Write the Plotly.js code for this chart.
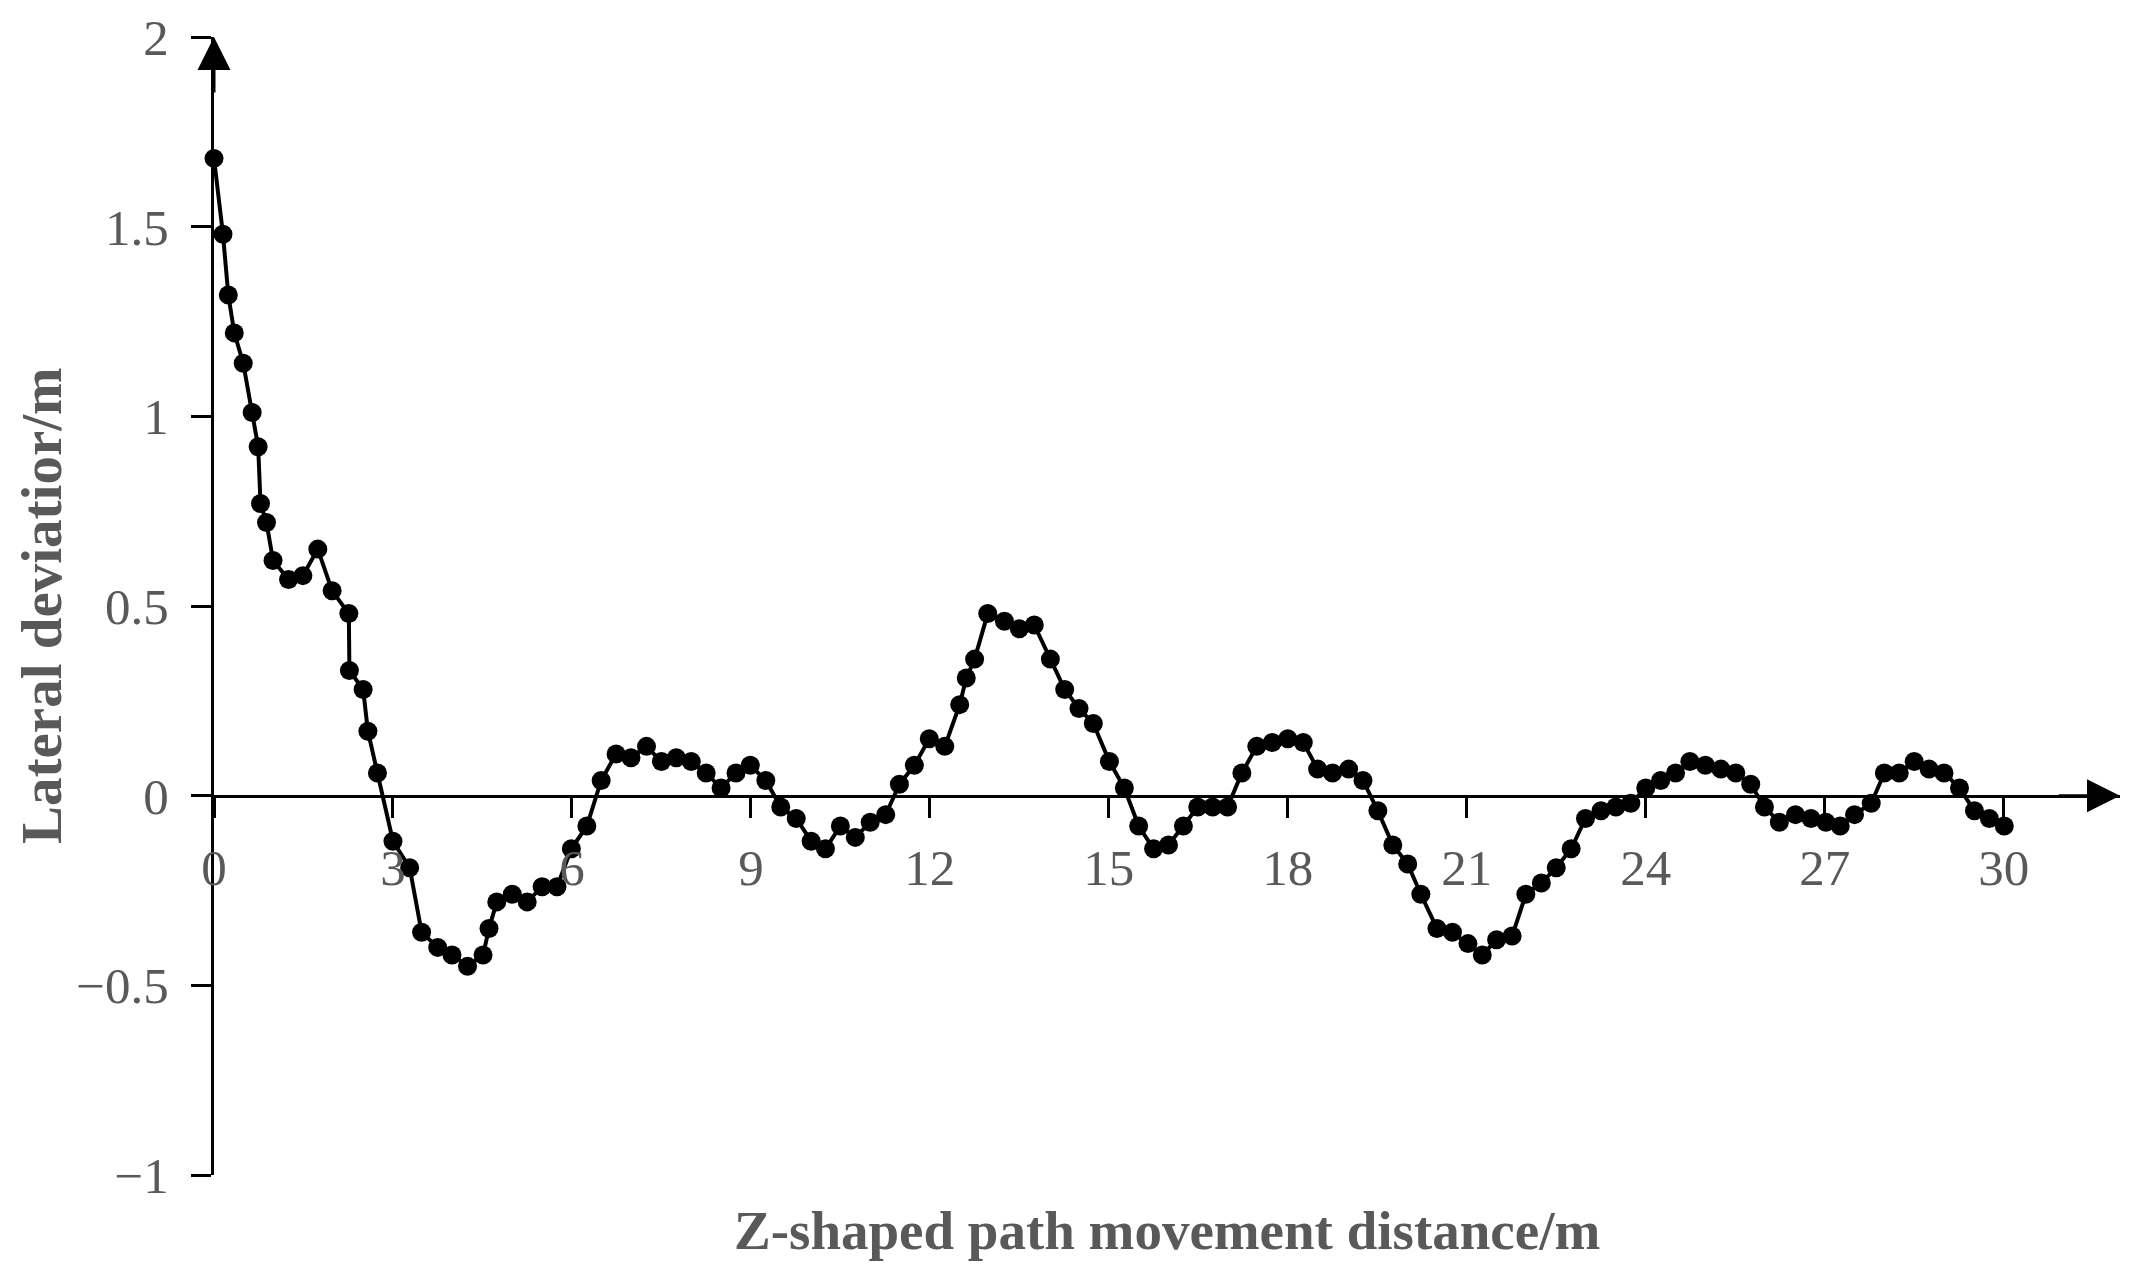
<!DOCTYPE html>
<html>
<head>
<meta charset="utf-8">
<script src="https://cdn.plot.ly/plotly-3.0.1.min.js"></script>
<style>
  html, body { margin: 0; padding: 0; background: #fff; }
  #chart { width: 2138px; height: 1274px; }
</style>
</head>
<body>
<div id="chart"></div>
<script>
// movement distance along the Z-shaped path (m)
var distance = [
    0, 0.15, 0.24, 0.34, 0.49, 0.64, 0.74, 0.78, 0.88, 0.99,
    1.25, 1.49, 1.74, 1.98, 2.26, 2.27, 2.5, 2.58, 2.74, 3.0,
    3.28, 3.48, 3.75, 3.99, 4.25, 4.51, 4.61, 4.74, 5.0, 5.25,
    5.5, 5.75, 5.99, 6.25, 6.49, 6.74, 6.99, 7.25, 7.5, 7.75,
    8.0, 8.25, 8.5, 8.75, 8.99, 9.25, 9.5, 9.76, 10.01, 10.25,
    10.5, 10.75, 11.0, 11.26, 11.49, 11.74, 11.99, 12.25, 12.5, 12.61,
    12.75, 12.97, 13.25, 13.5, 13.75, 14.02, 14.26, 14.5, 14.74, 15.01,
    15.26, 15.5, 15.75, 16.0, 16.25, 16.49, 16.74, 16.99, 17.23, 17.48,
    17.74, 18.0, 18.26, 18.5, 18.75, 19.02, 19.26, 19.51, 19.76, 20.01,
    20.23, 20.5, 20.76, 21.02, 21.26, 21.5, 21.76, 21.99, 22.25, 22.5,
    22.75, 22.99, 23.25, 23.5, 23.75, 24.0, 24.25, 24.5, 24.74, 25.0,
    25.26, 25.51, 25.76, 25.99, 26.24, 26.51, 26.77, 27.02, 27.26, 27.5,
    27.78, 28.0, 28.25, 28.5, 28.75, 29.0, 29.26, 29.51, 29.76, 30.01
];

// lateral deviation (m)
var deviation = [
    1.68, 1.48, 1.32, 1.22, 1.14, 1.01, 0.92, 0.77, 0.72, 0.62,
    0.57, 0.58, 0.65, 0.54, 0.48, 0.33, 0.28, 0.17, 0.06, -0.12,
    -0.19, -0.36, -0.40, -0.42, -0.45, -0.42, -0.35, -0.28, -0.26, -0.28,
    -0.24, -0.24, -0.14, -0.08, 0.04, 0.11, 0.10, 0.13, 0.09, 0.10,
    0.09, 0.06, 0.02, 0.06, 0.08, 0.04, -0.03, -0.06, -0.12, -0.14,
    -0.08, -0.11, -0.07, -0.05, 0.03, 0.08, 0.15, 0.13, 0.24, 0.31,
    0.36, 0.48, 0.46, 0.44, 0.45, 0.36, 0.28, 0.23, 0.19, 0.09,
    0.02, -0.08, -0.14, -0.13, -0.08, -0.03, -0.03, -0.03, 0.06, 0.13,
    0.14, 0.15, 0.14, 0.07, 0.06, 0.07, 0.04, -0.04, -0.13, -0.18,
    -0.26, -0.35, -0.36, -0.39, -0.42, -0.38, -0.37, -0.26, -0.23, -0.19,
    -0.14, -0.06, -0.04, -0.03, -0.02, 0.02, 0.04, 0.06, 0.09, 0.08,
    0.07, 0.06, 0.03, -0.03, -0.07, -0.05, -0.06, -0.07, -0.08, -0.05,
    -0.02, 0.06, 0.06, 0.09, 0.07, 0.06, 0.02, -0.04, -0.06, -0.08
];

var xTicks = [0, 3, 6, 9, 12, 15, 18, 21, 24, 27, 30];
var yTicks = [-1, -0.5, 0, 0.5, 1, 1.5, 2];

var xTitle = 'Z-shaped path movement distance/m';
var yTitle = 'Lateral deviatior/m';

var serif = '"Liberation Serif", "Times New Roman", serif';
var grey = '#595959';

var trace = {
    x: distance,
    y: deviation,
    type: 'scatter',
    mode: 'lines+markers',
    line: {color: '#000', width: 4},
    marker: {color: '#000', size: 19},
    cliponaxis: false,
    hoverinfo: 'skip'
};

var layout = {
    width: 2138,
    height: 1274,
    margin: {l: 214, r: 18, t: 37, b: 99},
    paper_bgcolor: '#fff',
    plot_bgcolor: '#fff',
    showlegend: false,
    xaxis: {
        range: [0, 31.95],
        anchor: 'free',
        position: 1 / 3,   // y = 0 on the [-1, 2] range
        showline: true, linecolor: '#000', linewidth: 3,
        showgrid: false, zeroline: false,
        ticks: 'outside', ticklen: 20, tickwidth: 3, tickcolor: '#000',
        tickvals: xTicks,
        ticklabelstandoff: 6,
        tickfont: {family: serif, size: 51, color: grey}
    },
    yaxis: {
        range: [-1, 2],
        showline: true, linecolor: '#000', linewidth: 3,
        showgrid: false, zeroline: false,
        ticks: 'outside', ticklen: 20, tickwidth: 3, tickcolor: '#000',
        tickvals: yTicks,
        ticklabelstandoff: 12,
        tickfont: {family: serif, size: 51, color: grey}
    },
    annotations: [
        // arrow heads on both axes
        {x: 31.95, y: 0, ax: 30.9, ay: 0, xref: 'x', yref: 'y', axref: 'x', ayref: 'y',
         text: '', showarrow: true, arrowhead: 2, arrowsize: 2.2, arrowwidth: 3, arrowcolor: '#000'},
        {x: 0, y: 2, ax: 0, ay: 1.85, xref: 'x', yref: 'y', axref: 'x', ayref: 'y',
         text: '', showarrow: true, arrowhead: 2, arrowsize: 2.2, arrowwidth: 3, arrowcolor: '#000'},
        {x: 0.5, y: -0.049, xref: 'paper', yref: 'paper', xanchor: 'center', yanchor: 'middle',
         text: '<b>' + xTitle + '</b>', showarrow: false,
         font: {family: serif, size: 55, color: grey}},
        {x: -0.0908, y: 0.5, xref: 'paper', yref: 'paper', xanchor: 'center', yanchor: 'middle',
         text: '<b>' + yTitle + '</b>', showarrow: false, textangle: -90,
         font: {family: serif, size: 57, color: grey}}
    ]
};

Plotly.newPlot('chart', [trace], layout, {displayModeBar: false, staticPlot: true});
</script>
</body>
</html>
